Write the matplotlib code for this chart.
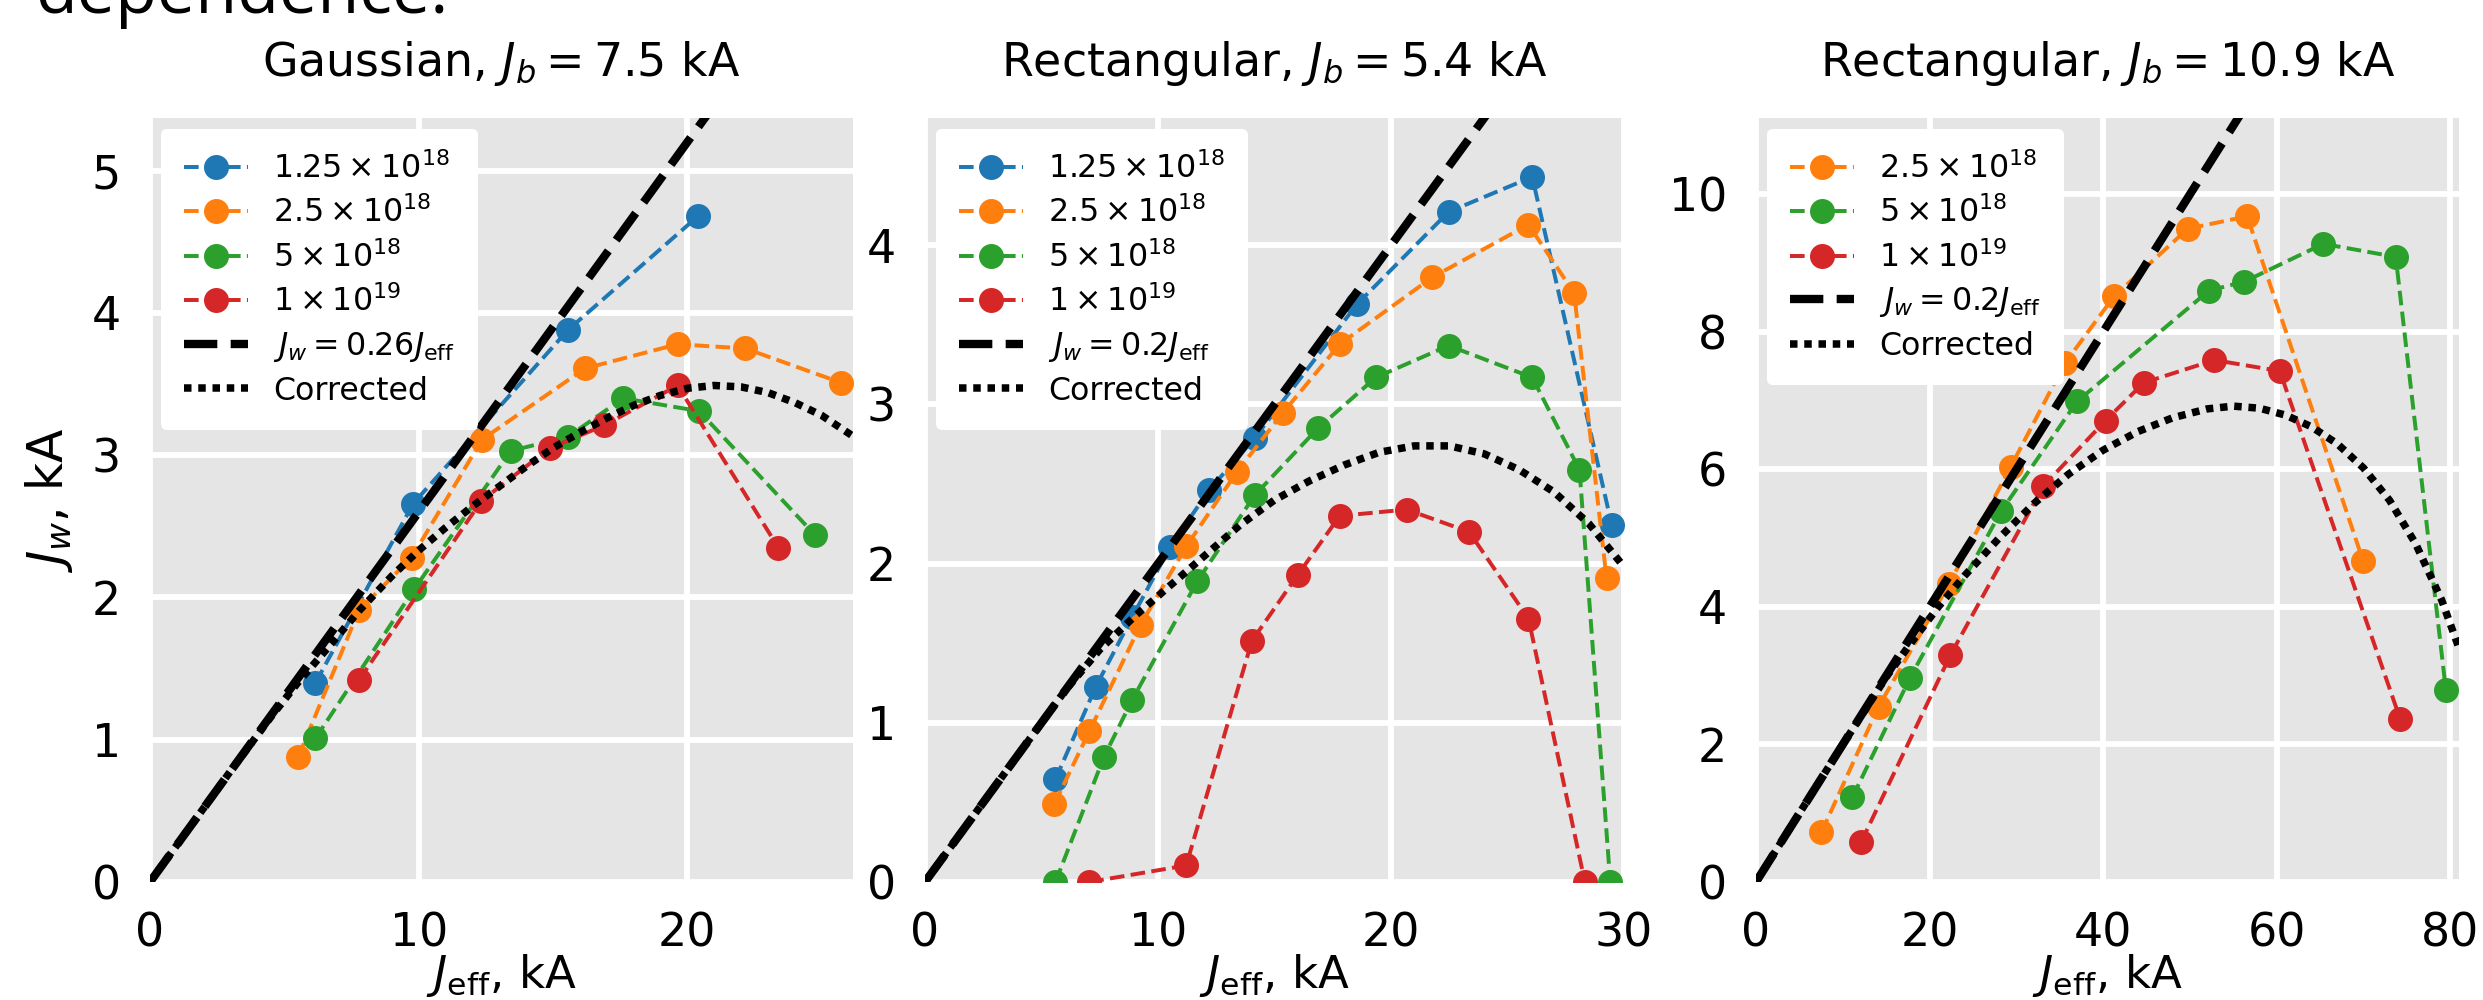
import matplotlib.pyplot as plt

# ---- data ----
# panel 1: Gaussian, J_b = 7.5 kA
g_blue_x = [6.16, 9.80, 15.56, 20.40]
g_blue_y = [1.40, 2.66, 3.88, 4.68]
g_orange_x = [5.52, 7.78, 9.74, 12.36, 16.20, 19.64, 22.16, 25.72]
g_orange_y = [0.88, 1.91, 2.28, 3.11, 3.61, 3.78, 3.75, 3.51]
g_green_x = [6.16, 9.84, 13.43, 15.56, 17.62, 20.44, 24.75]
g_green_y = [1.01, 2.06, 3.03, 3.13, 3.40, 3.31, 2.44]
g_red_x = [7.78, 12.34, 14.89, 16.91, 19.64, 23.39]
g_red_y = [1.42, 2.68, 3.05, 3.21, 3.49, 2.35]
g_corr_x = [0, 3, 4.5, 5.5, 6.5, 7.8, 9, 10, 11, 12, 13, 14, 15, 16, 17, 18,
            19, 20, 21, 22, 23, 24, 25, 26.2]
g_corr_y = [0, 0.78, 1.16, 1.40, 1.62, 1.91, 2.15, 2.33, 2.49, 2.64, 2.78, 2.92,
            3.05, 3.16, 3.26, 3.35, 3.42, 3.47, 3.49, 3.48, 3.44, 3.37, 3.28, 3.13]

# panel 2: Rectangular, J_b = 5.4 kA
r1_blue_x = [5.60, 7.33, 8.90, 10.52, 12.18, 14.15, 18.54, 22.47, 26.06, 29.48]
r1_blue_y = [0.645, 1.227, 1.667, 2.104, 2.46, 2.79, 3.63, 4.21, 4.43, 2.24]
r1_orange_x = [5.55, 7.05, 9.25, 11.21, 13.39, 15.35, 17.80, 21.78, 25.90, 27.86, 29.25]
r1_orange_y = [0.49, 0.946, 1.615, 2.108, 2.577, 2.946, 3.379, 3.80, 4.13, 3.70, 1.91]
r1_green_x = [5.60, 7.68, 8.90, 11.68, 14.15, 16.86, 19.35, 22.47, 26.06, 28.09, 29.41]
r1_green_y = [0.0, 0.786, 1.146, 1.888, 2.43, 2.85, 3.17, 3.37, 3.17, 2.59, 0.0]
r1_red_x = [7.05, 11.21, 14.03, 16.00, 17.80, 20.67, 23.35, 25.90, 28.32]
r1_red_y = [0.0, 0.104, 1.515, 1.93, 2.30, 2.34, 2.20, 1.655, 0.0]
r1_corr_x = [0, 4, 6, 7.5, 9, 10.5, 12, 13.5, 15, 16.5, 18, 19.5, 21, 22.5, 24,
             25.5, 27, 28.5, 30]
r1_corr_y = [0, 0.80, 1.20, 1.46, 1.67, 1.86, 2.05, 2.24, 2.40, 2.52, 2.62, 2.70,
             2.74, 2.74, 2.69, 2.59, 2.45, 2.25, 1.98]

# panel 3: Rectangular, J_b = 10.9 kA
r2_orange_x = [7.53, 14.12, 22.27, 29.36, 35.57, 41.28, 49.75, 56.59, 69.95]
r2_orange_y = [0.72, 2.55, 4.34, 6.04, 7.54, 8.52, 9.50, 9.68, 4.67]
r2_green_x = [11.10, 17.75, 28.23, 37.01, 52.20, 56.27, 65.37, 73.71, 79.49]
r2_green_y = [1.23, 2.97, 5.39, 6.99, 8.60, 8.73, 9.28, 9.09, 2.79]
r2_red_x = [12.11, 22.40, 33.12, 40.28, 44.67, 52.82, 60.35, 74.22]
r2_red_y = [0.58, 3.30, 5.76, 6.71, 7.26, 7.59, 7.43, 2.37]
r2_corr_x = [0, 10, 15, 18, 21, 24, 28, 32, 36, 40, 44, 48, 52, 55, 58, 61, 64,
             67, 70, 73, 76, 79, 81]
r2_corr_y = [0, 2.0, 2.98, 3.5, 4.0, 4.45, 5.0, 5.5, 5.93, 6.28, 6.55, 6.75, 6.88,
             6.92, 6.89, 6.79, 6.62, 6.37, 6.02, 5.55, 4.92, 4.10, 3.40]

density_labels = [r'$1.25\times10^{18}$', r'$2.5\times10^{18}$',
                  r'$5\times10^{18}$', r'$1\times10^{19}$']
colors = ['#1f77b4', '#ff7f0e', '#2ca02c', '#d62728']

panels = [
    dict(title=r'Gaussian, $J_b=7.5$ kA', slope=0.26, slope_label='0.26',
         series=[(g_blue_x, g_blue_y, 0), (g_orange_x, g_orange_y, 1),
                 (g_green_x, g_green_y, 2), (g_red_x, g_red_y, 3)],
         corr=(g_corr_x, g_corr_y), xlim=26.17, ylim=5.37,
         xticks=[0, 10, 20], yticks=[0, 1, 2, 3, 4, 5]),
    dict(title=r'Rectangular, $J_b=5.4$ kA', slope=0.2, slope_label='0.2',
         series=[(r1_blue_x, r1_blue_y, 0), (r1_orange_x, r1_orange_y, 1),
                 (r1_green_x, r1_green_y, 2), (r1_red_x, r1_red_y, 3)],
         corr=(r1_corr_x, r1_corr_y), xlim=29.87, ylim=4.80,
         xticks=[0, 10, 20, 30], yticks=[0, 1, 2, 3, 4]),
    dict(title=r'Rectangular, $J_b=10.9$ kA', slope=0.2, slope_label='0.2',
         series=[(r2_orange_x, r2_orange_y, 1), (r2_green_x, r2_green_y, 2),
                 (r2_red_x, r2_red_y, 3)],
         corr=(r2_corr_x, r2_corr_y), xlim=81.0, ylim=11.11,
         xticks=[0, 20, 40, 60, 80], yticks=[0, 2, 4, 6, 8, 10]),
]

# axes boxes in figure pixels (left, right)
W, H = 2483, 1000
boxes = [(150, 853), (925, 1624), (1756, 2459)]
top_px, bottom_px = 118, 882

fig = plt.figure(figsize=(W / 300, H / 300), dpi=300)

# cut-off caption line above the figure
fig.text(35 / W, 1 - 13 / H, 'dependence.', fontsize=16.4, family='Open Sans',
         va='baseline', ha='left')

for i, p in enumerate(panels):
    l, r = boxes[i]
    ax = fig.add_axes([l / W, 1 - bottom_px / H, (r - l) / W, (bottom_px - top_px) / H])
    ax.set_facecolor('#E5E5E5')
    for s in ax.spines.values():
        s.set_visible(False)
    ax.grid(True, color='white', linewidth=1.4)
    ax.set_axisbelow(True)

    for xs, ys, ci in p['series']:
        ax.plot(xs, ys, linestyle='--', linewidth=0.95, marker='o', markersize=6,
                markeredgewidth=0, color=colors[ci], label=density_labels[ci])

    # linear reference J_w = k * J_eff
    ref_x = [0, p['xlim']]
    ref_y = [p['slope'] * v for v in ref_x]
    ax.plot(ref_x, ref_y, color='black', linewidth=2.0, dashes=(4, 1.6),
            label=r'$J_w=%sJ_{\rm eff}$' % p['slope_label'])

    cx, cy = p['corr']
    ax.plot(cx, cy, color='black', linewidth=1.8, dashes=(1, 0.9), label='Corrected')

    ax.set_xlim(0, p['xlim'])
    ax.set_ylim(0, p['ylim'])
    ax.set_xticks(p['xticks'])
    ax.set_yticks(p['yticks'])
    ax.tick_params(axis='both', length=0, pad=7, labelsize=11)
    ax.set_title(p['title'], fontsize=11, pad=10)
    ax.set_xlabel(r'$J_{\rm eff}$, kA', fontsize=10.8, labelpad=-1)
    if i == 0:
        ax.set_ylabel(r'$J_w$, kA', fontsize=11.7, labelpad=4)

    ax.legend(loc='upper left', fontsize=7.6, framealpha=1.0, facecolor='white',
              edgecolor='none', labelspacing=0.37, handlelength=2.0,
              borderpad=0.73, borderaxespad=0.35)

fig.savefig('out.png', dpi=300)
